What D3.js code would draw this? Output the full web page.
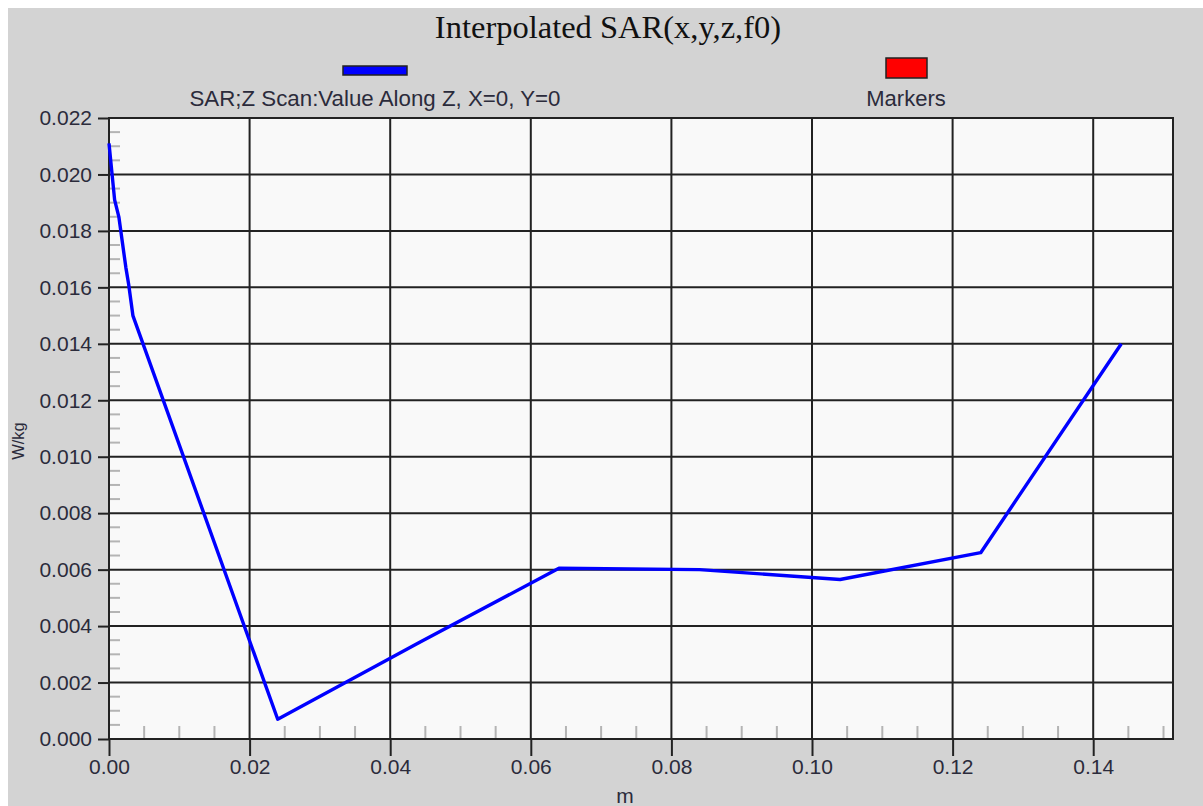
<!DOCTYPE html>
<html>
<head>
<meta charset="utf-8">
<script src="https://cdn.jsdelivr.net/npm/d3@7"></script>
<style>
  html, body { margin: 0; padding: 0; background: #ffffff; }
  svg { display: block; }
</style>
</head>
<body>
<svg id="chart" width="1203" height="806"></svg>
<script>
// SAR sampled along the Z axis at X=0, Y=0
const zPositions = [0, 0.0008, 0.0014, 0.0024, 0.0028, 0.0034, 0.024, 0.044, 0.064, 0.084, 0.104, 0.124, 0.144];
const sarValues  = [0.0211, 0.0191, 0.0185, 0.0167, 0.0161, 0.0150, 0.0007, 0.0034, 0.00605, 0.0060, 0.00565, 0.0066, 0.0140];

const xTickValues = [0.00, 0.02, 0.04, 0.06, 0.08, 0.10, 0.12, 0.14];
const yTickValues = [0.000, 0.002, 0.004, 0.006, 0.008, 0.010, 0.012, 0.014, 0.016, 0.018, 0.020, 0.022];

const titleText = "Interpolated SAR(x,y,z,f0)";
const seriesName = "SAR;Z Scan:Value Along Z, X=0, Y=0";
const markersName = "Markers";
const xLabel = "m";
const yLabel = "W/kg";

const svg = d3.select("#chart");
const W = 1203, H = 806;
const plot = { left: 109, top: 118, right: 1173, bottom: 739 };

const x = d3.scaleLinear().domain([0, 0.15135]).range([plot.left, plot.right]);
const y = d3.scaleLinear().domain([0, 0.022]).range([plot.bottom, plot.top]);

// panel background
svg.append("rect").attr("x", 8).attr("y", 8).attr("width", W - 8).attr("height", H - 8).attr("fill", "#d3d3d3");

// plot area
svg.append("rect")
  .attr("x", plot.left).attr("y", plot.top)
  .attr("width", plot.right - plot.left).attr("height", plot.bottom - plot.top)
  .attr("fill", "#f9f9f9");

// minor ticks inside the plot
const xMinor = d3.range(0.005, 0.1513, 0.005).filter(v => Math.abs(v / 0.02 - Math.round(v / 0.02)) > 1e-6);
svg.append("g").selectAll("line").data(xMinor).join("line")
  .attr("x1", d => x(d)).attr("x2", d => x(d))
  .attr("y1", plot.bottom - 13).attr("y2", plot.bottom)
  .attr("stroke", "#b4b4b4").attr("stroke-width", 2);

const yMinor = d3.range(0.0005, 0.022, 0.0005).filter(v => Math.abs(v / 0.002 - Math.round(v / 0.002)) > 1e-6);
svg.append("g").selectAll("line").data(yMinor).join("line")
  .attr("x1", plot.left).attr("x2", plot.left + 11)
  .attr("y1", d => y(d)).attr("y2", d => y(d))
  .attr("stroke", "#b4b4b4").attr("stroke-width", 2);

// grid lines
svg.append("g").selectAll("line").data(xTickValues.slice(1)).join("line")
  .attr("x1", d => x(d)).attr("x2", d => x(d))
  .attr("y1", plot.top).attr("y2", plot.bottom)
  .attr("stroke", "#222").attr("stroke-width", 2);
svg.append("g").selectAll("line").data(yTickValues.slice(1)).join("line")
  .attr("x1", plot.left).attr("x2", plot.right)
  .attr("y1", d => y(d)).attr("y2", d => y(d))
  .attr("stroke", "#222").attr("stroke-width", 2);

// axes
const fontAxis = "'Liberation Sans', Arial, sans-serif";
const xAxis = d3.axisBottom(x).tickValues(xTickValues).tickFormat(d3.format(".2f")).tickSize(17).tickPadding(3);
const gx = svg.append("g").attr("transform", `translate(0,${plot.bottom})`).call(xAxis);
const yAxis = d3.axisLeft(y).tickValues(yTickValues).tickFormat(d3.format(".3f")).tickSize(11).tickPadding(6);
const gy = svg.append("g").attr("transform", `translate(${plot.left},0)`).call(yAxis);
[gx, gy].forEach(g => {
  g.select(".domain").remove();
  g.selectAll(".tick line").attr("stroke", "#222").attr("stroke-width", 2);
  g.selectAll(".tick text").attr("fill", "#2b2b3b").style("font-family", fontAxis).style("font-size", "21px");
});

// plot frame
svg.append("rect")
  .attr("x", plot.left).attr("y", plot.top)
  .attr("width", plot.right - plot.left).attr("height", plot.bottom - plot.top)
  .attr("fill", "none").attr("stroke", "#222").attr("stroke-width", 2);

// data line
const line = d3.line().x((d, i) => x(zPositions[i])).y(d => y(d));
svg.append("path").datum(sarValues)
  .attr("d", line)
  .attr("fill", "none").attr("stroke", "#0000ff").attr("stroke-width", 3.4)
  .attr("stroke-linejoin", "round");

// title
svg.append("text").attr("x", 608).attr("y", 38).attr("text-anchor", "middle")
  .style("font-family", "'Liberation Serif', 'Times New Roman', serif").style("font-size", "32.5px")
  .attr("fill", "#111").text(titleText);

// legend
svg.append("rect").attr("x", 343).attr("y", 66).attr("width", 64).attr("height", 9)
  .attr("fill", "#0000ff").attr("stroke", "#222").attr("stroke-width", 1.5);
svg.append("text").attr("x", 375).attr("y", 106).attr("text-anchor", "middle")
  .style("font-family", fontAxis).style("font-size", "22.3px").attr("fill", "#2b2b3b").text(seriesName);

svg.append("rect").attr("x", 886).attr("y", 58).attr("width", 41).attr("height", 20)
  .attr("fill", "#ff0000").attr("stroke", "#222").attr("stroke-width", 1.5);
svg.append("text").attr("x", 906).attr("y", 106).attr("text-anchor", "middle")
  .style("font-family", fontAxis).style("font-size", "22px").attr("fill", "#2b2b3b").text(markersName);

// axis titles
svg.append("text").attr("x", 625).attr("y", 803).attr("text-anchor", "middle")
  .style("font-family", fontAxis).style("font-size", "21px").attr("fill", "#2b2b3b").text(xLabel);
svg.append("text").attr("transform", "translate(24,441) rotate(-90)").attr("text-anchor", "middle")
  .style("font-family", fontAxis).style("font-size", "16.5px").attr("fill", "#2b2b3b").text(yLabel);
</script>
</body>
</html>
